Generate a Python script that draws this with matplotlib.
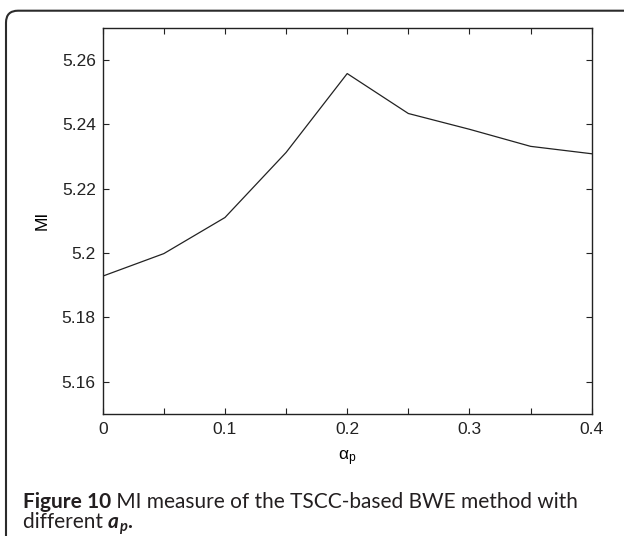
import matplotlib
matplotlib.use("Agg")
import matplotlib.pyplot as plt
from matplotlib.patches import FancyBboxPatch

alpha_p = [0.0, 0.05, 0.10, 0.15, 0.20, 0.25, 0.30, 0.35, 0.40]
mi_values = [5.1928, 5.1998, 5.2110, 5.2312, 5.2557, 5.2433, 5.2384, 5.2331, 5.2308]
x_ticks = [0.0, 0.05, 0.10, 0.15, 0.20, 0.25, 0.30, 0.35, 0.40]
x_tick_labels = ["0", "", "0.1", "", "0.2", "", "0.3", "", "0.4"]
y_ticks = [5.16, 5.18, 5.20, 5.22, 5.24, 5.26]
y_tick_labels = ["5.16", "5.18", "5.2", "5.22", "5.24", "5.26"]

plt.rcParams["mathtext.fontset"] = "custom"
plt.rcParams["mathtext.rm"] = "Liberation Sans"
plt.rcParams["mathtext.it"] = "Liberation Sans:italic"

W, H = 624, 536
fig = plt.figure(figsize=(W / 100, H / 100), dpi=100)

# rounded frame running off the right and bottom edges
frame = FancyBboxPatch(
    (0.06, -1.0), 8.0, (H - 10.7) / 100 + 1.0,
    boxstyle="round,pad=0,rounding_size=0.12",
    transform=fig.dpi_scale_trans, facecolor="none",
    edgecolor="#2b2b2b", linewidth=1.5,
)
fig.patches.append(frame)

ax = fig.add_axes([102.7 / W, (H - 414) / H, (591.7 - 102.7) / W, (414 - 27.5) / H])
ax.plot(alpha_p, mi_values, color="#222222", linewidth=0.9)
ax.set_xlim(0, 0.4)
ax.set_ylim(5.15, 5.27)
ax.set_xticks(x_ticks, x_tick_labels)
ax.set_yticks(y_ticks, y_tick_labels)
ax.tick_params(direction="in", length=4, width=0.8, top=True, right=True,
               labelsize=12.5, colors="#222222")
ax.tick_params(axis="x", pad=6)
ax.tick_params(axis="y", pad=5)
for label in ax.get_xticklabels() + ax.get_yticklabels():
    label.set_family("Liberation Sans")
for spine in ax.spines.values():
    spine.set_linewidth(1.0)
    spine.set_color("#222222")
ax.set_xlabel(r"α$_{\rm p}$", fontsize=12.5, family="Liberation Sans", labelpad=8)
ax.set_ylabel("MI", fontsize=12.5, family="Liberation Sans")
ax.yaxis.set_label_coords((50 - 102.7) / (591.7 - 102.7), 0.5)

# caption, written piece by piece so bold and italic parts sit inline
cap_font = "Lato"
cap_color = "#231f20"
cap_width = 552
fig.canvas.draw()
renderer = fig.canvas.get_renderer()


def put_line(parts, x_px, baseline_px, size):
    x = x_px
    for text, weight, style, scale, dy in parts:
        t = fig.text(x / W, 1 - (baseline_px + dy) / H, text, fontsize=size * scale,
                     family=cap_font, weight=weight, style=style, color=cap_color,
                     va="baseline", ha="left")
        x += t.get_window_extent(renderer).width
    return x


line1 = [("Figure 10", "bold", "normal", 1.0, 0),
         (" MI measure of the TSCC-based BWE method with", "normal", "normal", 1.0, 0)]
line2 = [("different ", "normal", "normal", 1.0, 0),
         ("a", "bold", "italic", 1.0, 0),
         ("p", "bold", "italic", 0.7, 3),
         (".", "bold", "normal", 1.0, 0)]

# fit the caption size to the width of the first line
probe = fig.text(0, 0, "Figure 10 MI measure of the TSCC-based BWE method with",
                 fontsize=12, family=cap_font)
cap_size = 12 * cap_width / probe.get_window_extent(renderer).width
probe.remove()

put_line(line1, 22.7, 507.7, cap_size)
put_line(line2, 22.7, 528.3, cap_size)

fig.savefig("out.png", dpi=100)
